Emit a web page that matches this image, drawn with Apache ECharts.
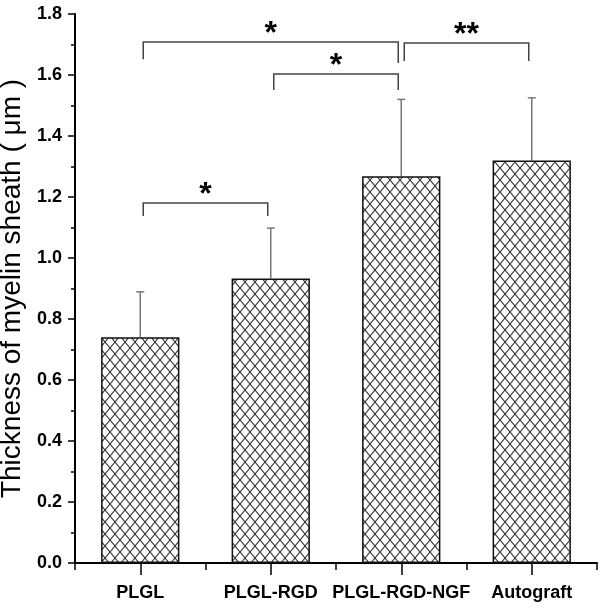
<!DOCTYPE html>
<html><head><meta charset="utf-8">
<script src="https://cdn.jsdelivr.net/npm/echarts@6/dist/echarts.min.js"></script>
<style>html,body{margin:0;padding:0;background:#fff}#c{width:600px;height:608px}</style>
</head><body><div id="c"></div>
<script>
// ---- data ----
const categories = ['PLGL', 'PLGL-RGD', 'PLGL-RGD-NGF', 'Autograft'];
const means = [0.74, 0.933, 1.268, 1.32];
const sds = [0.149, 0.165, 0.252, 0.205];
const yTicks = ['0.0','0.2','0.4','0.6','0.8','1.0','1.2','1.4','1.6','1.8'];
// brackets: [from category, to category, bracket y, left end y, right end y, label]
const bracketFrom = [0, 1, 2, 0];
const bracketTo = [2, 2, 3, 1];
const bracketY = [1.708, 1.603, 1.705, 1.180];
const bracketLeftEnd = [1.652, 1.551, 1.646, 1.138];
const bracketRightEnd = [1.639, 1.551, 1.646, 1.138];
const bracketLabel = ['*', '*', '**', '*'];

// hatch pattern
function makePattern() {
  const c = document.createElement('canvas');
  c.width = 10; c.height = 12;
  const g = c.getContext('2d');
  g.fillStyle = '#fff'; g.fillRect(0, 0, 10, 12);
  g.strokeStyle = '#2a2a2a'; g.lineWidth = 1.1;
  g.beginPath();
  g.moveTo(0, 0); g.lineTo(10, 12);
  g.moveTo(10, 0); g.lineTo(0, 12);
  g.stroke();
  return c;
}

const chart = echarts.init(document.getElementById('c'));
const errData = categories.map((c, i) => [i, means[i], means[i] + sds[i]]);
const brData = bracketFrom.map((f, i) => [f, bracketTo[i], bracketY[i], bracketLeftEnd[i], bracketRightEnd[i], i]);
const labelFont = '"Liberation Sans", Arial, sans-serif';

chart.setOption({
  animation: false,
  grid: { left: 75, right: 3, top: 14, bottom: 45, containLabel: false, outerBoundsMode: 'none' },
  xAxis: [{
    type: 'category', data: categories,
    axisLine: { lineStyle: { color: '#000', width: 2 } },
    axisTick: { show: true, length: 7, lineStyle: { color: '#000', width: 1.5 } },
    axisLabel: { color: '#000', fontFamily: labelFont, fontWeight: 'bold', fontSize: 18, margin: 21, interval: 0, hideOverlap: false }
  }, {
    type: 'category', data: categories, position: 'bottom',
    axisLine: { show: false },
    axisTick: { show: true, alignWithLabel: true, length: 12, lineStyle: { color: '#000', width: 1.5 } },
    axisLabel: { show: false }
  }],
  yAxis: {
    type: 'value', min: 0, max: 1.8, interval: 0.2,
    name: 'Thickness of myelin sheath ( μm )', nameLocation: 'middle', nameGap: 47,
    nameTextStyle: { fontFamily: '"Liberation Sans", Arial, sans-serif', fontSize: 28, color: '#000' },
    axisLine: { show: true, lineStyle: { color: '#000', width: 2 } },
    axisTick: { show: true, length: 7, lineStyle: { color: '#000', width: 1.5 } },
    minorTick: { show: true, splitNumber: 2, length: 4, lineStyle: { color: '#000', width: 1.5 } },
    splitLine: { show: false },
    axisLabel: { color: '#000', fontFamily: labelFont, fontWeight: 'bold', fontSize: 18, margin: 13,
      formatter: (v) => yTicks[Math.round(v / 0.2)] }
  },
  series: [{
    type: 'bar', data: means, barWidth: '60%',
    itemStyle: { color: { image: makePattern(), repeat: 'repeat' }, borderColor: '#111', borderWidth: 1.5 },
    z: 2
  }, {
    type: 'custom', data: errData, z: 1,
    renderItem: function (params, api) {
      const top = api.coord([api.value(0), api.value(2)]);
      const base = api.coord([api.value(0), api.value(1)]);
      const st = { stroke: '#777', lineWidth: 1.5 };
      return { type: 'group', children: [
        { type: 'line', shape: { x1: top[0], y1: top[1], x2: base[0], y2: base[1] }, style: st },
        { type: 'line', shape: { x1: top[0] - 4, y1: top[1], x2: top[0] + 4, y2: top[1] }, style: st }
      ]};
    }
  }, {
    type: 'custom', data: brData, z: 3,
    renderItem: function (params, api) {
      const y = api.value(2);
      const a = api.coord([api.value(0), y]);
      const b = api.coord([api.value(1), y]);
      const la = api.coord([api.value(0), api.value(3)]);
      const rb = api.coord([api.value(1), api.value(4)]);
      const idx = api.value(5);
      const x1 = a[0] + 3, x2 = b[0] - 3;
      const st = { stroke: '#444', lineWidth: 1.5, fill: null };
      return { type: 'group', children: [
        { type: 'polyline', shape: { points: [[x1, la[1]], [x1, a[1]], [x2, a[1]], [x2, rb[1]]] }, style: st },
        { type: 'text', x: (x1 + x2) / 2, y: a[1] - 8, style: { text: bracketLabel[idx], fontFamily: '"Liberation Sans", Arial, sans-serif', fontWeight: 'bold', fontSize: 32, fill: '#000', align: 'center', verticalAlign: 'middle' } }
      ]};
    }
  }]
});
</script></body></html>
